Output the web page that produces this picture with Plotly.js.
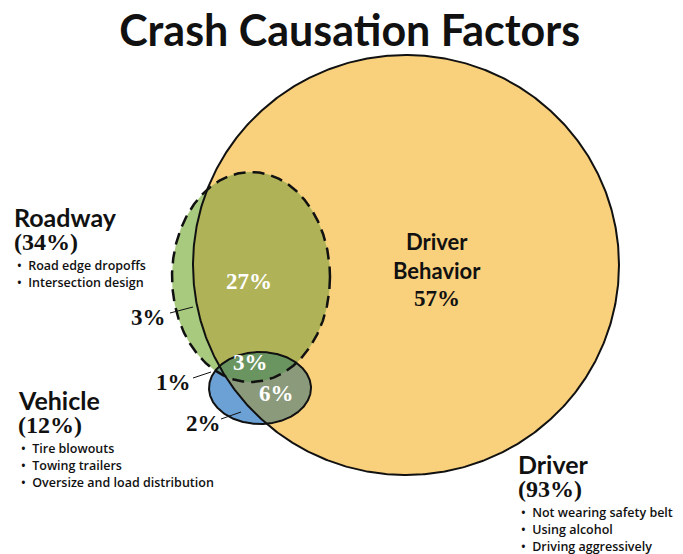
<!DOCTYPE html>
<html>
<head>
<meta charset="utf-8">
<script src="https://cdn.plot.ly/plotly-3.0.1.min.js"></script>
<style>html,body{margin:0;padding:0;background:#fff}#chart{width:683px;height:554px}</style>
</head>
<body>
<div id="chart"></div>
<script>
// ---------- data ----------
const chartTitle = 'Crash Causation Factors';
const setNames = ['Roadway', 'Vehicle', 'Driver'];
const setShares = [34, 12, 93];
const roadwayFactors = ['Road edge dropoffs', 'Intersection design'];
const vehicleFactors = ['Tire blowouts', 'Towing trailers', 'Oversize and load distribution'];
const driverFactors = ['Not wearing safety belt', 'Using alcohol', 'Driving aggressively'];
const regionNames = ['Driver only', 'Roadway + Driver', 'Roadway only', 'Roadway + Vehicle + Driver', 'Vehicle + Driver', 'Roadway + Vehicle', 'Vehicle only'];
const regionShares = [57, 27, 3, 3, 6, 1, 2];
const driverOnlyCaption = 'Driver<br>Behavior';

// ---------- geometry (layout) ----------
const geo = {
  driver:  {cx: 406, cy: 265, rx: 213, ry: 210},
  roadway: {cx: 251, cy: 277, rx: 79,  ry: 105},
  vehicle: {cx: 260, cy: 388, rx: 51,  ry: 36}
};
const N = 720;
function ell(e) {
  const pts = [];
  for (let i = 0; i < N; i++) {
    const t = 2 * Math.PI * i / N;
    pts.push([e.cx + e.rx * Math.cos(t), e.cy + e.ry * Math.sin(t)]);
  }
  return pts;
}
function inside(p, e) {
  const dx = (p[0] - e.cx) / e.rx, dy = (p[1] - e.cy) / e.ry;
  return dx * dx + dy * dy <= 1;
}
function intersect(list) {
  let pts = [];
  list.forEach((e, i) => {
    ell(e).forEach(p => {
      if (list.every((o, j) => j === i || inside(p, o))) pts.push(p);
    });
  });
  const mx = pts.reduce((s, p) => s + p[0], 0) / pts.length;
  const my = pts.reduce((s, p) => s + p[1], 0) / pts.length;
  pts.sort((a, b) => Math.atan2(a[1] - my, a[0] - mx) - Math.atan2(b[1] - my, b[0] - mx));
  return pts;
}
function fillTrace(pts, color) {
  const x = pts.map(p => p[0]); x.push(pts[0][0]);
  const y = pts.map(p => p[1]); y.push(pts[0][1]);
  return {x, y, mode: 'lines', fill: 'toself', fillcolor: color, line: {width: 0, color: color}, hoverinfo: 'skip', showlegend: false};
}
function outline(e, dash, w) {
  const pts = ell(e); pts.push(pts[0]);
  return {x: pts.map(p => p[0]), y: pts.map(p => p[1]), mode: 'lines', line: {color: '#111', width: w, dash: dash}, hoverinfo: 'skip', showlegend: false};
}

const colors = {
  driver: '#F9D07C', roadway: '#A7CA7E', rd: '#B0B257', vehicle: '#6CA1D5',
  rv: '#6E9C8C', vd: '#8A9A7A', rvd: '#6B9560'
};

const traces = [
  fillTrace(ell(geo.driver), colors.driver),
  fillTrace(ell(geo.roadway), colors.roadway),
  fillTrace(intersect([geo.roadway, geo.driver]), colors.rd),
  fillTrace(ell(geo.vehicle), colors.vehicle),
  fillTrace(intersect([geo.roadway, geo.vehicle]), colors.rv),
  fillTrace(intersect([geo.vehicle, geo.driver]), colors.vd),
  fillTrace(intersect([geo.roadway, geo.vehicle, geo.driver]), colors.rvd),
  outline(geo.vehicle, 'solid', 2),
  outline(geo.driver, 'solid', 2),
  outline(geo.roadway, '12px,7px', 2.5),
  // leader lines
  {x: [170, 193], y: [313, 307], mode: 'lines', line: {color: '#111', width: 1}, hoverinfo: 'skip', showlegend: false},
  {x: [193, 211], y: [378, 372], mode: 'lines', line: {color: '#111', width: 1}, hoverinfo: 'skip', showlegend: false},
  {x: [221, 241], y: [419, 412], mode: 'lines', line: {color: '#111', width: 1}, hoverinfo: 'skip', showlegend: false}
];

const SANS = 'Lato, "Open Sans", sans-serif';
const BODY = '"Open Sans", Lato, sans-serif';
const SERIF = '"Liberation Serif", "DejaVu Serif", serif';
const ann = [];
function txt(x, y, text, font, anchor) {
  ann.push({x, y, xref: 'x', yref: 'y', text, showarrow: false, xanchor: anchor || 'left', yanchor: 'middle', align: anchor === 'center' ? 'center' : 'left', font});
}
const pct = v => v + '%';

// set labels
const setPos = [[12, 217], [16, 400], [516, 464]];
const factorLists = [roadwayFactors, vehicleFactors, driverFactors];
setNames.forEach((n, i) => {
  const [x, y] = setPos[i];
  txt(x, y, '<b>' + n + '</b>', {family: SANS, size: 25, color: '#111'});
  txt(x, y + 25, '<b>(' + pct(setShares[i]) + ')</b>', {family: SERIF, size: 24, color: '#111'});
  factorLists[i].forEach((f, k) => {
    txt(x + 3, y + 48 + k * 17, '•  ' + f, {family: BODY, size: 12.5, weight: 600, color: '#111'});
  });
});

// region labels
txt(437, 256, '<b>' + driverOnlyCaption + '</b>', {family: SANS, size: 22, color: '#111'}, 'center');
txt(437, 298, '<b>' + pct(regionShares[0]) + '</b>', {family: SERIF, size: 23, color: '#111'}, 'center');
txt(249, 281, '<b>' + pct(regionShares[1]) + '</b>', {family: SERIF, size: 23, color: '#fff'}, 'center');
txt(148, 317, '<b>' + pct(regionShares[2]) + '</b>', {family: SERIF, size: 23, color: '#111'}, 'center');
txt(250, 362, '<b>' + pct(regionShares[3]) + '</b>', {family: SERIF, size: 23, color: '#fff'}, 'center');
txt(276, 393, '<b>' + pct(regionShares[4]) + '</b>', {family: SERIF, size: 23, color: '#fff'}, 'center');
txt(173, 382, '<b>' + pct(regionShares[5]) + '</b>', {family: SERIF, size: 23, color: '#111'}, 'center');
txt(203, 423, '<b>' + pct(regionShares[6]) + '</b>', {family: SERIF, size: 23, color: '#111'}, 'center');

const layout = {
  width: 683, height: 554,
  margin: {l: 0, r: 0, t: 0, b: 0},
  paper_bgcolor: '#fff', plot_bgcolor: '#fff',
  title: {text: '<b>' + chartTitle + '</b>', x: 0.512, xanchor: 'center', y: 0.945, yanchor: 'middle', font: {family: SANS, size: 43, color: '#111'}},
  xaxis: {range: [0, 683], visible: false, fixedrange: true},
  yaxis: {range: [554, 0], visible: false, fixedrange: true},
  annotations: ann,
  showlegend: false
};
Plotly.newPlot('chart', traces, layout, {displayModeBar: false, staticPlot: true});
</script>
</body>
</html>
